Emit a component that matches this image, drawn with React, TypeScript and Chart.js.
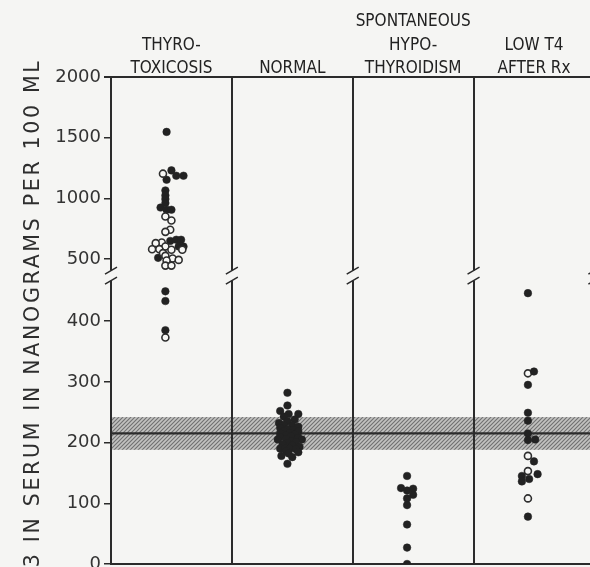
import React, { useEffect, useRef } from "react";
import { Chart, registerables } from "chart.js";

Chart.register(...registerables);

// ---- categories & text ----
const categories: string[][] = [
  ["THYRO-", "TOXICOSIS"],
  ["NORMAL"],
  ["SPONTANEOUS", "HYPO-", "THYROIDISM"],
  ["LOW T4", "AFTER Rx"],
];
const yTitle = "T3 IN SERUM IN NANOGRAMS PER 100 ML";

// ---- axis ticks (ng/100 ml) ----
const lowerTicks = [0, 100, 200, 300, 400];
const upperTicks = [500, 1000, 1500, 2000];

// ---- normal range band & mean ----
const normalRange = [188, 242];
const normalMean = 215;

// ---- Thyrotoxicosis (column 0) ----
const thyroUpperFilled = [1548, 1231, 1187, 1187, 1154, 1066, 1025, 995, 962, 925, 907, 907, 650, 660, 660, 604, 604, 511];
const thyroUpperFilledJitter = [-0.04, 0.0, 0.04, 0.1, -0.04, -0.05, -0.05, -0.05, -0.05, -0.09, -0.04, 0.0, -0.01, 0.04, 0.08, 0.06, 0.1, -0.11];
const thyroUpperOpen = [1204, 851, 818, 742, 725, 637, 632, 604, 582, 582, 577, 577, 550, 527, 505, 494, 489, 447, 447];
const thyroUpperOpenJitter = [-0.07, -0.05, 0.0, -0.01, -0.05, -0.08, -0.13, -0.05, -0.16, -0.1, 0.0, 0.09, -0.07, -0.05, 0.01, 0.06, -0.04, -0.05, 0.0];
const thyroLowerFilled = [449, 433, 385];
const thyroLowerFilledJitter = [-0.05, -0.05, -0.05];
const thyroLowerOpen = [373];
const thyroLowerOpenJitter = [-0.05];

// ---- Normal (column 1) ----
const normalFilled = [282, 261, 252, 247, 247, 243, 238, 232, 235, 229, 228, 226, 224, 222, 221, 219, 218, 216, 215, 213, 212, 210, 209, 208, 206, 205, 205, 203, 201, 199, 197, 195, 193, 190, 190, 190, 189, 186, 184, 182, 178, 176, 165];
const normalFilledJitter = [-0.04, -0.04, -0.1, -0.03, 0.05, -0.07, 0.02, -0.11, -0.04, -0.07, 0.0, 0.05, -0.1, -0.04, 0.01, -0.07, 0.05, -0.02, -0.1, 0.02, -0.05, -0.01, -0.1, 0.05, -0.05, -0.12, 0.08, 0.0, 0.03, -0.04, -0.08, 0.0, 0.06, -0.1, -0.06, -0.02, 0.03, -0.05, 0.05, -0.03, -0.09, 0.0, -0.04];

// ---- Spontaneous hypothyroidism (column 2) ----
const hypoFilled = [145, 125, 121, 124, 114, 108, 97, 65, 27, 0];
const hypoFilledJitter = [-0.05, -0.1, -0.05, 0.0, 0.0, -0.05, -0.05, -0.05, -0.05, -0.05];

// ---- Low T4 after Rx (column 3) ----
const lowT4Filled = [446, 317, 295, 249, 236, 215, 204, 205, 169, 148, 145, 140, 136, 78];
const lowT4FilledJitter = [-0.05, 0.0, -0.05, -0.05, -0.05, -0.05, -0.05, 0.01, 0.0, 0.03, -0.1, -0.04, -0.1, -0.05];
const lowT4Open = [314, 178, 153, 108];
const lowT4OpenJitter = [-0.05, -0.05, -0.05, -0.05];

// ---- broken axis: upper panel compressed (axis units) ----
const UPPER_BASE = 402;
const UPPER_DIV = 5;
const AXIS_MAX = UPPER_BASE + 2000 / UPPER_DIV;
const BREAK_AT = 475;

const toAxis = (v: number, panel: "lower" | "upper") =>
  panel === "upper" ? UPPER_BASE + v / UPPER_DIV : v;

const axisTicks = [
  ...lowerTicks.map((v) => toAxis(v, "lower")),
  ...upperTicks.map((v) => toAxis(v, "upper")),
];
const tickLabels = [...lowerTicks, ...upperTicks].map(String);

const pts = (col: number, values: number[], jitter: number[], panel: "lower" | "upper") =>
  values.map((v, i) => ({ x: col + 0.5 + jitter[i], y: toAxis(v, panel) }));

const INK = "#2b2b2b";

const filledStyle = {
  pointRadius: 3.8,
  pointBackgroundColor: "#222",
  pointBorderColor: "#222",
  pointBorderWidth: 0.5,
};
const openStyle = {
  pointRadius: 3.5,
  pointBackgroundColor: "#f7f7f5",
  pointBorderColor: "#2e2e2e",
  pointBorderWidth: 1.6,
};

function makePattern(): CanvasPattern | string {
  const c = document.createElement("canvas");
  c.width = 4;
  c.height = 4;
  const g = c.getContext("2d");
  if (!g) return "#aaa";
  g.fillStyle = "#c2c2c0";
  g.fillRect(0, 0, 4, 4);
  g.strokeStyle = "#707070";
  g.lineWidth = 1.1;
  g.beginPath();
  g.moveTo(-1, 5);
  g.lineTo(5, -1);
  g.moveTo(-1, 1);
  g.lineTo(1, -1);
  g.moveTo(3, 5);
  g.lineTo(5, 3);
  g.stroke();
  const ctx2 = document.createElement("canvas").getContext("2d");
  return (ctx2 && ctx2.createPattern(c, "repeat")) || "#aaa";
}

const framePlugin = {
  id: "frame",
  beforeDraw(chart: any) {
    const { ctx, chartArea, scales } = chart;
    const y = scales.y;
    const top = y.getPixelForValue(normalRange[1]);
    const bot = y.getPixelForValue(normalRange[0]);
    ctx.save();
    ctx.fillStyle = makePattern();
    ctx.fillRect(chartArea.left, top, chartArea.right - chartArea.left, bot - top);
    const my = y.getPixelForValue(normalMean);
    ctx.strokeStyle = INK;
    ctx.lineWidth = 2.2;
    ctx.beginPath();
    ctx.moveTo(chartArea.left, my);
    ctx.lineTo(chartArea.right, my);
    ctx.stroke();
    ctx.restore();
  },
  afterDraw(chart: any) {
    const { ctx, chartArea, scales } = chart;
    const x = scales.x;
    const y = scales.y;
    ctx.save();
    // top frame line
    ctx.strokeStyle = INK;
    ctx.lineWidth = 2;
    ctx.beginPath();
    ctx.moveTo(chartArea.left - 7, chartArea.top);
    ctx.lineTo(chartArea.right, chartArea.top);
    ctx.stroke();

    // axis breaks
    const by = y.getPixelForValue(BREAK_AT);
    for (let i = 0; i <= categories.length; i++) {
      const bx = x.getPixelForValue(i);
      ctx.fillStyle = "#f5f5f3";
      ctx.fillRect(bx - 2.5, by - 5, 5, 10);
      ctx.strokeStyle = INK;
      ctx.lineWidth = 1.5;
      ctx.beginPath();
      ctx.moveTo(bx - 6, by - 1.5);
      ctx.lineTo(bx + 6, by - 8.5);
      ctx.moveTo(bx - 6, by + 8.5);
      ctx.lineTo(bx + 6, by + 1.5);
      ctx.stroke();
    }

    // column headers
    ctx.fillStyle = "#222";
    ctx.font = '17px "Liberation Sans Narrow", "DejaVu Sans Condensed", sans-serif';
    ctx.textAlign = "center";
    ctx.textBaseline = "alphabetic";
    categories.forEach((lines, i) => {
      const cx = x.getPixelForValue(i + 0.5);
      const n = lines.length;
      lines.forEach((t, j) => {
        ctx.fillText(t, cx, 73 - (n - 1 - j) * 23.5);
      });
    });

    // y title
    ctx.translate(39, (chartArea.top + chartArea.bottom) / 2);
    ctx.rotate(-Math.PI / 2);
    ctx.font = '20.5px "DejaVu Sans", sans-serif';
    (ctx as any).letterSpacing = "2.7px";
    ctx.fillStyle = "#2e2e2e";
    ctx.textAlign = "center";
    ctx.textBaseline = "alphabetic";
    ctx.fillText(yTitle, 0, 0);
    ctx.restore();
  },
};

export default function App() {
  const ref = useRef<HTMLCanvasElement | null>(null);

  useEffect(() => {
    if (!ref.current) return;
    Chart.defaults.font.family = '"DejaVu Sans", sans-serif';
    const chart = new Chart(ref.current, {
      type: "scatter",
      data: {
        datasets: [
          { data: pts(0, thyroUpperOpen, thyroUpperOpenJitter, "upper"), ...openStyle },
          { data: pts(0, thyroUpperFilled, thyroUpperFilledJitter, "upper"), ...filledStyle },
          { data: pts(0, thyroLowerFilled, thyroLowerFilledJitter, "lower"), ...filledStyle },
          { data: pts(0, thyroLowerOpen, thyroLowerOpenJitter, "lower"), ...openStyle },
          { data: pts(1, normalFilled, normalFilledJitter, "lower"), ...filledStyle },
          { data: pts(2, hypoFilled, hypoFilledJitter, "lower"), ...filledStyle },
          { data: pts(3, lowT4Filled, lowT4FilledJitter, "lower"), ...filledStyle },
          { data: pts(3, lowT4Open, lowT4OpenJitter, "lower"), ...openStyle },
        ] as any,
      },
      options: {
        responsive: false,
        maintainAspectRatio: false,
        devicePixelRatio: 1,
        animation: false,
        events: [],
        layout: { padding: { top: 77, right: 5, bottom: 26, left: 0 } },
        plugins: { legend: { display: false }, tooltip: { enabled: false } },
        scales: {
          x: {
            type: "linear",
            min: 0,
            max: categories.length,
            afterFit: (s: any) => {
              s.height = 0;
            },
            ticks: { display: false, stepSize: 1 },
            grid: { color: INK, lineWidth: 2, drawTicks: false },
            border: { display: true, color: INK, width: 2 },
          },
          y: {
            type: "linear",
            min: 0,
            max: AXIS_MAX,
            afterFit: (s: any) => {
              s.width = 111;
            },
            afterBuildTicks: (s: any) => {
              s.ticks = axisTicks.map((v) => ({ value: v }));
            },
            ticks: {
              autoSkip: false,
              callback: (_v: any, i: number) => tickLabels[i],
              font: { size: 18 },
              color: "#333",
              padding: 3,
            },
            grid: {
              drawOnChartArea: false,
              drawTicks: true,
              tickLength: 7,
              color: INK,
              lineWidth: 1.5,
            },
            border: { display: true, color: INK, width: 2 },
          },
        },
      } as any,
      plugins: [framePlugin],
    });
    return () => chart.destroy();
  }, []);

  return (
    <div
      style={{
        position: "fixed",
        left: 0,
        top: 0,
        width: 590,
        height: 567,
        overflow: "hidden",
        background: "#f5f5f3",
      }}
    >
      <canvas ref={ref} width={600} height={590} style={{ display: "block" }} />
    </div>
  );
}
